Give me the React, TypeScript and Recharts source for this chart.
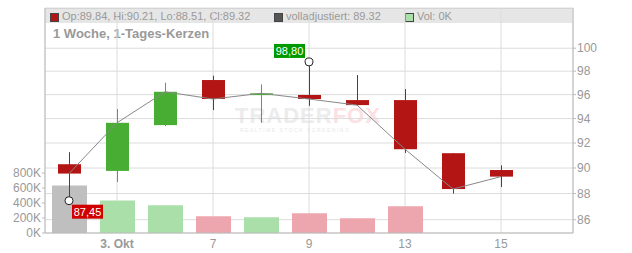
import {
  ComposedChart,
  Bar,
  Line,
  XAxis,
  YAxis,
  CartesianGrid,
  Cell,
  ReferenceDot,
} from "recharts";

const days: number[] = [2, 3, 6, 7, 8, 9, 10, 13, 14, 15, 16];
const tickDays: number[] = [3, 7, 9, 13, 15];
const opens: (number | null)[] = [90.3, 89.77, 93.46, 97.24, 95.96, 95.97, 95.54, 95.54, 91.18, 89.84, null];
const highs: (number | null)[] = [91.26, 94.79, 97.01, 97.61, 96.87, 98.8, 97.67, 96.47, 91.18, 90.21, null];
const lows: (number | null)[] = [87.45, 88.9, 93.38, 94.7, 93.65, 95.06, 95.06, 91.2, 88.0, 88.51, null];
const closes: (number | null)[] = [89.56, 93.65, 96.24, 95.63, 96.11, 95.63, 95.12, 91.5, 88.35, 89.32, null];
const volumes: (number | null)[] = [632000, 435000, 369000, 224000, 211000, 264000, 198000, 356000, 0, 0, null];
const priceTicks: number[] = [86, 88, 90, 92, 94, 96, 98, 100];
const volTicks: number[] = [0, 200000, 400000, 600000, 800000];

const RED = "#b31515";
const GREEN = "#48ae33";
const VOL_GREEN = "#aadfa9";
const VOL_RED = "#eea6ae";
const VOL_GRAY = "#bfbfbf";
const FONT = "'Liberation Sans', Arial, sans-serif";

const rows = days.map((d, i) => ({
  day: d,
  open: opens[i],
  high: highs[i],
  low: lows[i],
  close: closes[i],
  range: highs[i] != null ? [lows[i], highs[i]] : null,
  vol: volumes[i],
}));

const last = rows[rows.length - 2];
let hiIdx = 0;
let loIdx = 0;
rows.forEach((r, i) => {
  if (r.high != null && r.high > (rows[hiIdx].high as number)) hiIdx = i;
  if (r.low != null && r.low < (rows[loIdx].low as number)) loIdx = i;
});

const fmt = (v: number) => v.toFixed(2).replace(".", ",");

function Candle(props: any) {
  const { x, y, width, height, payload } = props;
  if (!payload || payload.high == null) return null;
  const top = Math.min(y, y + height);
  const bot = Math.max(y, y + height);
  const lh = Math.log(payload.high);
  const span = lh - Math.log(payload.low);
  const py = (v: number) => (span === 0 ? top : top + ((lh - Math.log(v)) / span) * (bot - top));
  const up = payload.close >= payload.open;
  const color = up ? GREEN : RED;
  const bTop = py(Math.max(payload.open, payload.close));
  const bBot = py(Math.min(payload.open, payload.close));
  const cx = Math.floor(x + width / 2) + 0.5;
  return (
    <g>
      <line x1={cx} x2={cx} y1={top} y2={bot} stroke={color} strokeWidth={1} />
      <rect x={x} y={bTop} width={width} height={Math.max(bBot - bTop, 1.5)} fill={color} />
    </g>
  );
}

function Flag(props: any) {
  const { viewBox, text, color, below } = props;
  const cx = viewBox.x + viewBox.width / 2;
  const cy = viewBox.y + viewBox.height / 2;
  const w = 31;
  const h = 14;
  const bx = below ? cx + 3 : cx - 4 - w;
  const by = below ? cy + 4 : cy - 4 - h;
  return (
    <g>
      <rect x={bx} y={by} width={w} height={h} fill={color} />
      <text x={bx + w / 2} y={by + h / 2} dy="0.36em" textAnchor="middle" fill="#fff" fontSize={11} fontFamily={FONT}>
        {text}
      </text>
    </g>
  );
}

function DayTick(props: any) {
  const { x, y, payload } = props;
  const first = payload.value === tickDays[0];
  return (
    <text x={x} y={y} dy="0.71em" textAnchor="middle" fill="#999" fontSize={12} fontFamily={FONT} fontWeight={first ? "bold" : "normal"}>
      {first ? `${payload.value}. Okt` : payload.value}
    </text>
  );
}

const sq = (bg: string) => ({
  position: "absolute" as const,
  top: 4,
  width: 7,
  height: 7,
  background: bg,
  border: "1px solid #444",
});

const txt = {
  position: "absolute" as const,
  top: 0,
  fontSize: 11,
  lineHeight: "15px",
  color: "#999",
  whiteSpace: "nowrap" as const,
};

export default function App() {
  return (
    <div style={{ position: "absolute", left: 0, top: 0, width: 632, height: 253, fontFamily: FONT, background: "#fff" }}>
      <div style={{ position: "absolute", left: 45, top: 8, width: 527, height: 14, background: "#e6e6e6", borderTop: "1px solid #ccc" }}>
        <div style={{ ...sq(RED), left: 5 }} />
        <div style={{ ...txt, left: 17 }}>
          {`Op:${last.open}, Hi:${last.high}, Lo:${last.low}, Cl:${last.close}`}
        </div>
        <div style={{ ...sq("#555"), left: 229 }} />
        <div style={{ ...txt, left: 241 }}>{`volladjustiert: ${last.close}`}</div>
        <div style={{ ...sq(VOL_GREEN), left: 360 }} />
        <div style={{ ...txt, left: 372 }}>{`Vol: ${Math.round((last.vol as number) / 1000)}K`}</div>
      </div>
      <div style={{ position: "absolute", left: 53, top: 26, fontSize: 13, fontWeight: "bold", color: "#999" }}>
        1 Woche, 1-Tages-Kerzen
      </div>
      <div style={{ position: "absolute", left: 235, top: 106, fontSize: 22, lineHeight: "20px", fontWeight: "bold", color: "#ececec", letterSpacing: 1 }}>
        TRADER<span style={{ color: "#fbe1e4" }}>FOX</span>
      </div>
      <div style={{ position: "absolute", left: 240, top: 127, fontSize: 5, lineHeight: "6px", color: "#e8e8e8", letterSpacing: 1.5 }}>
        REALTIME STOCK SCREENING
      </div>
      <div style={{ position: "absolute", left: 0, top: 0 }}>
        <ComposedChart width={632} height={253} data={rows} margin={{ top: 8, right: 0, bottom: 0, left: 0 }}>
          <CartesianGrid xAxisId="v" yAxisId="price" stroke="#dcdcdc" />
          <XAxis xAxisId="p" dataKey="day" type="category" hide height={0} />
          <XAxis
            xAxisId="v"
            dataKey="day"
            type="category"
            ticks={tickDays}
            interval={0}
            height={20}
            tickLine={false}
            axisLine={{ stroke: "#bbb" }}
            tick={<DayTick />}
            tickMargin={0}
          />
          <YAxis
            yAxisId="vol"
            orientation="left"
            width={45}
            domain={[0, 3000000]}
            ticks={volTicks}
            interval={0}
            tickFormatter={(v: number) => `${v / 1000}K`}
            tick={{ fill: "#999", fontSize: 12, fontFamily: FONT }}
            tickSize={3}
            tickMargin={1}
            tickLine={{ stroke: "#bbb" }}
            axisLine={{ stroke: "#bbb" }}
          />
          <YAxis
            yAxisId="price"
            orientation="right"
            width={59}
            scale="log"
            domain={[85, 103.6]}
            allowDataOverflow
            ticks={priceTicks}
            interval={0}
            tick={{ fill: "#999", fontSize: 12, fontFamily: FONT }}
            tickSize={3}
            tickMargin={1}
            tickLine={{ stroke: "#bbb" }}
            axisLine={{ stroke: "#bbb" }}
          />
          <Bar xAxisId="v" yAxisId="vol" dataKey="vol" barSize={35} isAnimationActive={false}>
            {rows.map((r, i) => (
              <Cell
                key={`v-${i}`}
                fill={i === 0 ? VOL_GRAY : (r.close as number) >= (r.open as number) ? VOL_GREEN : VOL_RED}
              />
            ))}
          </Bar>
          <Line
            xAxisId="p"
            yAxisId="price"
            dataKey="close"
            stroke="#888"
            strokeWidth={1}
            dot={false}
            activeDot={false}
            isAnimationActive={false}
          />
          <Bar xAxisId="p" yAxisId="price" dataKey="range" barSize={23} shape={<Candle />} isAnimationActive={false} />
          <ReferenceDot
            xAxisId="p"
            yAxisId="price"
            x={rows[hiIdx].day}
            y={rows[hiIdx].high as number}
            r={4}
            fill="#fff"
            stroke="#222"
            label={(p: any) => <Flag viewBox={p.viewBox} text={fmt(rows[hiIdx].high as number)} color="#009a00" />}
          />
          <ReferenceDot
            xAxisId="p"
            yAxisId="price"
            x={rows[loIdx].day}
            y={rows[loIdx].low as number}
            r={4}
            fill="#fff"
            stroke="#222"
            label={(p: any) => <Flag viewBox={p.viewBox} text={fmt(rows[loIdx].low as number)} color="#d10000" below />}
          />
        </ComposedChart>
      </div>
    </div>
  );
}
